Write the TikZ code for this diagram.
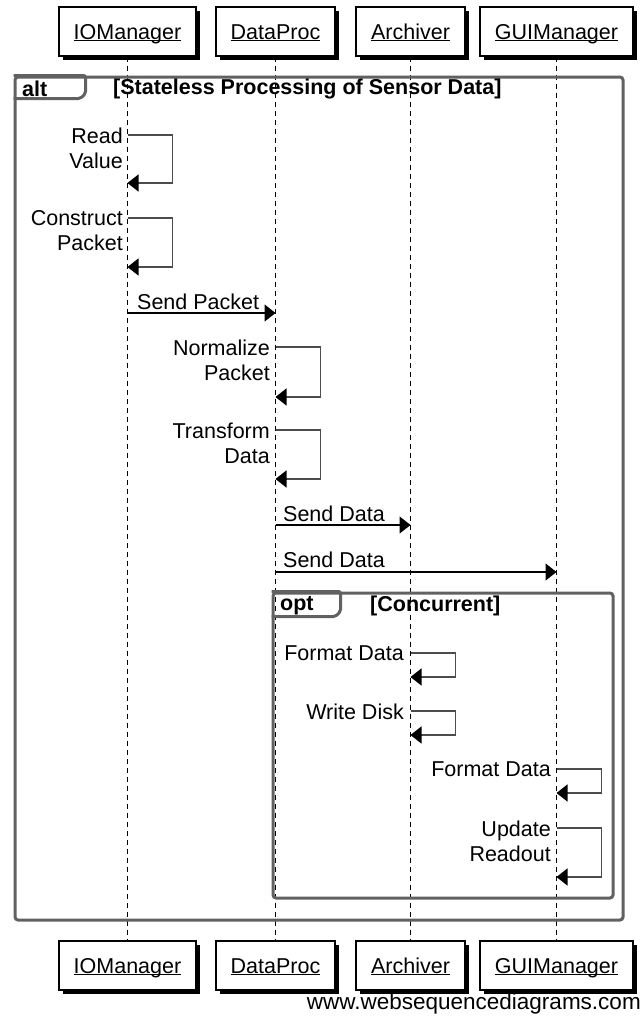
\documentclass[tikz,border=0pt]{standalone}
\usepackage{fontspec}
\setmainfont{Liberation Sans}
\usetikzlibrary{arrows.meta, positioning, calc, shadows}

\begin{document}
\begin{tikzpicture}[
  x=1pt, y=-1pt,
  font=\fontsize{21.5}{25}\selectfont,
  %% Participant boxes
  actor/.style ={draw, line width=1.2pt, fill=white, minimum height=49pt, inner sep=0pt,
                 text height=15pt, text depth=0pt,
                 drop shadow={shadow xshift=4pt, shadow yshift=-4pt, fill=black, opacity=1}},
  %% Lifelines and frames
  life/.style  ={line width=1.1pt, dash pattern=on 5pt off 4pt},
  frame/.style ={draw=black!62, line width=3pt, rounded corners=3pt, inner sep=0pt},
  tab/.style   ={draw=black!62, line width=3pt, rounded corners=2pt},
  kw/.style    ={anchor=west, inner sep=0pt, font=\fontsize{21.5}{25}\selectfont\bfseries},
  %% Messages
  msg/.style   ={-{Triangle[length=11pt, width=17pt]}, line width=1.4pt},
  self/.style  ={-{Triangle[length=11pt, width=17pt, color=black]}, line width=1.4pt, draw=black!70},
  lbl/.style   ={inner sep=0pt, align=right, anchor=north east},
  mlbl/.style  ={inner sep=0pt, anchor=base west}
]
\useasboundingbox (0,0) rectangle (642,1017);

%% ── PARTICIPANTS ───────────────────────────────────────────────
\node[actor, minimum width=137pt] (io)  at (127.5, 31.5) {\underline{\smash{IOManager}}};
\node[actor, minimum width=119pt] (dp)  at (275.5, 31.5) {\underline{\smash{DataProc}}};
\node[actor, minimum width=109pt] (ar)  at (410.5, 31.5) {\underline{\smash{Archiver}}};
\node[actor, minimum width=153pt] (gui) at (556.5, 31.5) {\underline{\smash{GUIManager}}};

\node[actor, minimum width=137pt] (iob)  at (127.5, 965.5) {\underline{\smash{IOManager}}};
\node[actor, minimum width=119pt] (dpb)  at (275.5, 965.5) {\underline{\smash{DataProc}}};
\node[actor, minimum width=109pt] (arb)  at (410.5, 965.5) {\underline{\smash{Archiver}}};
\node[actor, minimum width=153pt] (guib) at (556.5, 965.5) {\underline{\smash{GUIManager}}};

\draw[life] (io)  -- (iob);
\draw[life] (dp)  -- (dpb);
\draw[life] (ar)  -- (arb);
\draw[life] (gui) -- (guib);

%% ── ALT FRAME ──────────────────────────────────────────────────
\node[frame, minimum width=608pt, minimum height=843pt] (alt) at (319, 498.5) {};
\draw[tab] ($(alt.north west)+(0,23)$) -- ++(67,0) -- ++(5,-5) |- (alt.north west);
\node[kw] (altkw)   at (22, 89)  {alt};
\node[kw] (altcond) at (113, 89) {[Stateless Processing of Sensor Data]};

%% IOManager self calls
\draw[self] (io |- 0,135) -- ++(45,0) -- ++(0,48) -- (io |- 0,183);
\node[lbl] (rv) at (123, 127.5) {Read\\Value};
\draw[self] (io |- 0,218) -- ++(45,0) -- ++(0,49) -- (io |- 0,267);
\node[lbl] (cp) at (123, 210.5) {Construct\\Packet};

%% IOManager -> DataProc
\draw[msg] (io |- 0,313) -- (dp |- 0,313);
\node[mlbl] (sp) at (137, 309) {Send Packet};

%% DataProc self calls
\draw[self] (dp |- 0,347) -- ++(45,0) -- ++(0,50) -- (dp |- 0,397);
\node[lbl] (np) at (270, 339.5) {Normalize\\Packet};
\draw[self] (dp |- 0,430) -- ++(45,0) -- ++(0,49) -- (dp |- 0,479);
\node[lbl] (td) at (270, 422.5) {Transform\\Data};

%% DataProc -> Archiver, GUIManager
\draw[msg] (dp |- 0,525) -- (ar |- 0,525);
\node[mlbl] (sd1) at (283, 521) {Send Data};
\draw[msg] (dp |- 0,572) -- (gui |- 0,572);
\node[mlbl] (sd2) at (283, 567) {Send Data};

%% ── OPT FRAME ──────────────────────────────────────────────────
\node[frame, minimum width=340pt, minimum height=305pt] (opt) at (443, 745.5) {};
\draw[tab] ($(opt.north west)+(0,25)$) -- ++(64,0) -- ++(5,-5) |- (opt.north west);
\node[kw] (optkw)   at (280, 606) {opt};
\node[kw] (optcond) at (370, 606) {[Concurrent]};

%% Archiver self calls
\draw[self] (ar |- 0,653) -- ++(45,0) -- ++(0,24) -- (ar |- 0,677);
\node[lbl] (fd1) at (404, 645.5) {Format Data};
\draw[self] (ar |- 0,711) -- ++(45,0) -- ++(0,24) -- (ar |- 0,735);
\node[lbl] (wd) at (404, 703.5) {Write Disk};

%% GUIManager self calls
\draw[self] (gui |- 0,769) -- ++(45,0) -- ++(0,24) -- (gui |- 0,793);
\node[lbl] (fd2) at (551, 761.5) {Format Data};
\draw[self] (gui |- 0,828) -- ++(45,0) -- ++(0,49) -- (gui |- 0,877);
\node[lbl] (ur) at (551, 820.5) {Update\\Readout};

%% ── FOOTER ─────────────────────────────────────────────────────
\node[inner sep=0pt, anchor=east, font=\fontsize{22.5}{26}\selectfont] (wsd) at (641, 1004) {www.websequencediagrams.com};

\end{tikzpicture}
\end{document}
